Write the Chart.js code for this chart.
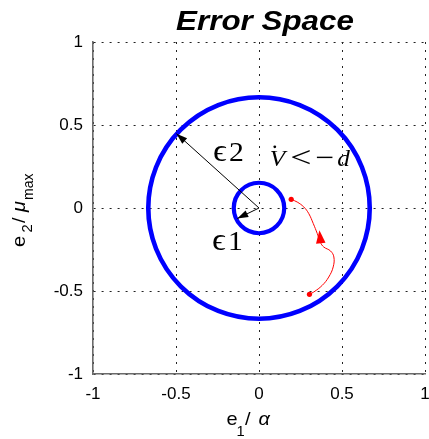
<!DOCTYPE html>
<html>
<head>
<meta charset="utf-8">
<script src="https://cdn.jsdelivr.net/npm/chart.js@4.4.0/dist/chart.umd.min.js"></script>
<style>
    html, body { margin: 0; padding: 0; background: #fff; }
    #wrap { width: 429px; height: 439px; }
</style>
</head>
<body>
<div id="wrap"><canvas id="chart" width="429" height="439"></canvas></div>
<script>
// axis ticks (both axes)
const tickValues = [-1, -0.5, 0, 0.5, 1];

// blue boundary circles: outer (V dot < -d region) and inner
const circleX = [0, 0];
const circleY = [0, 0];
const circleRadius = [0.667, 0.152];

// red error trajectory
const trajX = [0.194, 0.230, 0.270, 0.300, 0.327, 0.351, 0.370, 0.390, 0.431, 0.451, 0.447, 0.420, 0.381, 0.330, 0.304];
const trajY = [0.052, 0.036, 0.006, -0.034, -0.094, -0.154, -0.207, -0.235, -0.259, -0.295, -0.355, -0.416, -0.466, -0.506, -0.520];

// black radius arrows from the origin
const arrowTipX = [-0.497, -0.131];
const arrowTipY = [0.448, -0.064];

const SANS = '"Liberation Sans", Arial, sans-serif';
const SERIF = '"Liberation Serif", "DejaVu Serif", serif';

function stretchText(ctx, str, x, y, font, sx) {
    ctx.save();
    ctx.translate(x, y);
    ctx.scale(sx || 1, 1);
    ctx.font = font;
    ctx.textAlign = 'left';
    ctx.textBaseline = 'alphabetic';
    ctx.fillText(str, 0, 0);
    ctx.restore();
}

function arrowHead(ctx, fromX, fromY, tipX, tipY, len, half) {
    const ang = Math.atan2(tipY - fromY, tipX - fromX);
    ctx.beginPath();
    ctx.moveTo(tipX, tipY);
    ctx.lineTo(tipX - len * Math.cos(ang) + half * Math.sin(ang), tipY - len * Math.sin(ang) - half * Math.cos(ang));
    ctx.lineTo(tipX - len * Math.cos(ang) - half * Math.sin(ang), tipY - len * Math.sin(ang) + half * Math.cos(ang));
    ctx.closePath();
    ctx.fill();
}

const overlay = {
    id: 'overlay',
    beforeDatasetsDraw(chart) {
        const {ctx, scales: {x, y}} = chart;
        ctx.save();
        ctx.strokeStyle = '#0000ff';
        circleRadius.forEach((r, i) => {
            const cx = x.getPixelForValue(circleX[i]);
            const cy = y.getPixelForValue(circleY[i]);
            const rx = Math.abs(x.getPixelForValue(circleX[i] + r) - cx);
            const ry = Math.abs(y.getPixelForValue(circleY[i] + r) - cy);
            ctx.lineWidth = i === 0 ? 4.6 : 4.2;
            ctx.beginPath();
            ctx.ellipse(cx, cy, rx, ry, 0, 0, Math.PI * 2);
            ctx.stroke();
        });
        ctx.restore();
    },
    afterDatasetsDraw(chart) {
        const {ctx, scales: {x, y}} = chart;
        ctx.save();

        // radius arrows
        ctx.strokeStyle = '#000';
        ctx.fillStyle = '#000';
        ctx.lineWidth = 1;
        const ox = x.getPixelForValue(0), oy = y.getPixelForValue(0);
        arrowTipX.forEach((tx, i) => {
            const px = x.getPixelForValue(tx), py = y.getPixelForValue(arrowTipY[i]);
            ctx.beginPath();
            ctx.moveTo(ox, oy);
            ctx.lineTo(px, py);
            ctx.stroke();
            arrowHead(ctx, ox, oy, px, py, 11, 3.6);
        });

        // direction arrow on the red trajectory
        ctx.fillStyle = '#ff0000';
        arrowHead(ctx, x.getPixelForValue(0.372), y.getPixelForValue(-0.212),
                  x.getPixelForValue(0.364), y.getPixelForValue(-0.134), 13, 4.8);

        // math labels
        ctx.fillStyle = '#000';
        stretchText(ctx, '\u03F5', x.getPixelForValue(-0.277), y.getPixelForValue(0.283), '31px ' + SERIF, 1.1);
        stretchText(ctx, '2', x.getPixelForValue(-0.277) + 16, y.getPixelForValue(0.283), '27px ' + SERIF, 1.1);
        stretchText(ctx, '\u03F5', x.getPixelForValue(-0.283), y.getPixelForValue(-0.254), '31px ' + SERIF, 1.1);
        stretchText(ctx, '1', x.getPixelForValue(-0.283) + 16, y.getPixelForValue(-0.254), '27px ' + SERIF, 1.1);

        const vx = x.getPixelForValue(0.065), vy = y.getPixelForValue(0.251);
        stretchText(ctx, 'V', vx, vy, 'italic 24px ' + SERIF, 1.05);
        ctx.beginPath();
        ctx.arc(vx + 5, vy - 19.5, 1.4, 0, Math.PI * 2);
        ctx.fill();
        stretchText(ctx, '<', vx + 20.5, vy + 0.5, '29px ' + SERIF, 1.3);
        stretchText(ctx, '\u2212', vx + 45.5, vy + 0.5, '29px ' + SERIF, 1.15);
        stretchText(ctx, 'd', vx + 67.5, vy, 'italic 24px ' + SERIF, 1.05);

        ctx.restore();
    },
    afterDraw(chart) {
        const {ctx} = chart;
        ctx.save();
        ctx.fillStyle = '#000';

        // title
        ctx.font = 'italic bold 28px ' + SANS;
        const tw = ctx.measureText('Error Space').width * 1.12;
        stretchText(ctx, 'Error Space', 265 - tw / 2, 29.5, 'italic bold 28px ' + SANS, 1.12);

        // x axis title: e_1 / alpha
        stretchText(ctx, 'e', 226.5, 425, '19px ' + SANS, 1.05);
        stretchText(ctx, '1', 236.5, 436, '14px ' + SANS, 1.05);
        stretchText(ctx, '/', 245, 425, '19px ' + SANS, 1.05);
        stretchText(ctx, '\u03B1', 258.5, 425, 'italic 19px ' + SANS, 1.05);

        // y axis title: e_2 / mu_max (rotated)
        ctx.translate(25, 247);
        ctx.rotate(-Math.PI / 2);
        stretchText(ctx, 'e', 0, 0, '19px ' + SANS, 1.05);
        stretchText(ctx, '2', 14.5, 6.7, '14px ' + SANS, 1.05);
        stretchText(ctx, '/', 24, 0, '19px ' + SANS, 1.05);
        stretchText(ctx, '\u03BC', 35, 0, 'italic 19px ' + SANS, 1.05);
        stretchText(ctx, 'max', 47, 7.5, '14px ' + SANS, 1.0);

        ctx.restore();
    }
};

const points = trajX.map((v, i) => ({x: v, y: trajY[i]}));
const last = points.length - 1;

const axisCommon = {
    type: 'linear',
    min: -1,
    max: 1,
    afterBuildTicks: s => { s.ticks = tickValues.map(v => ({value: v})); },
    ticks: {
        color: '#000',
        font: {family: SANS, size: 17},
        callback: v => String(v)
    },
    grid: {color: '#222', lineWidth: 1, drawTicks: false},
    border: {display: true, color: '#6a6a6a', width: 1.6, dash: [2, 6]},
    title: {display: false}
};

new Chart(document.getElementById('chart'), {
    type: 'scatter',
    data: {
        datasets: [{
            data: points,
            showLine: true,
            borderColor: '#ff0000',
            borderWidth: 1,
            tension: 0.4,
            pointRadius: points.map((p, i) => (i === 0 || i === last) ? 2.6 : 0),
            pointBackgroundColor: '#ff0000',
            pointBorderWidth: 0
        }]
    },
    options: {
        responsive: false,
        devicePixelRatio: 1,
        animation: false,
        layout: {padding: {top: 42, right: 4, left: 0, bottom: 0}},
        plugins: {legend: {display: false}, tooltip: {enabled: false}, title: {display: false}},
        scales: {
            x: Object.assign({}, axisCommon, {
                ticks: Object.assign({}, axisCommon.ticks, {padding: 10}),
                afterFit: s => { s.height = 65; s.paddingLeft = 0; s.paddingRight = 0; }
            }),
            y: Object.assign({}, axisCommon, {
                ticks: Object.assign({}, axisCommon.ticks, {padding: 10}),
                afterFit: s => { s.width = 93; s.paddingTop = 0; s.paddingBottom = 0; }
            })
        }
    },
    plugins: [overlay]
});
</script>
</body>
</html>
